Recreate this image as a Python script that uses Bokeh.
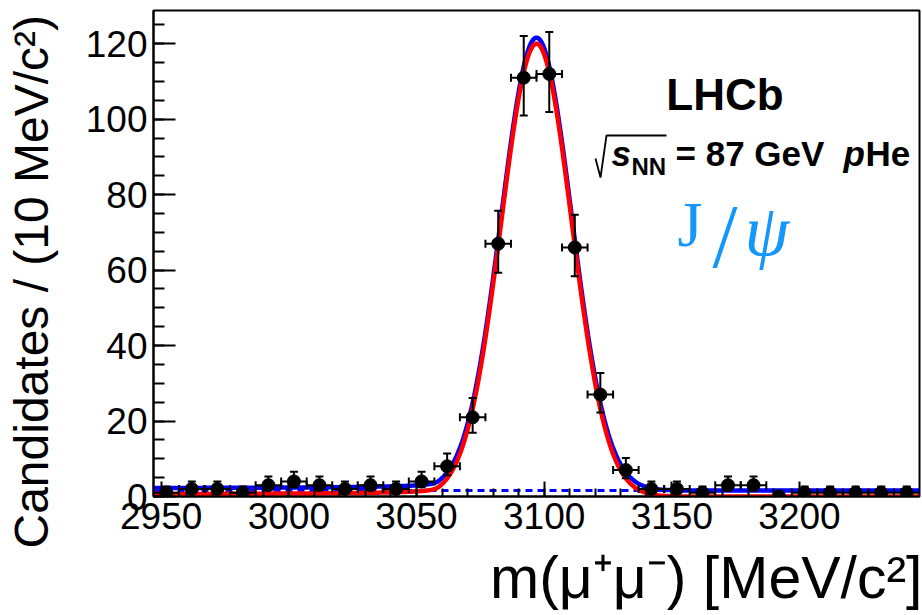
import numpy as np
from bokeh.plotting import figure
from bokeh.models import (Range1d, FixedTicker, Label, Whisker, TeeHead,
                          ColumnDataSource, PolyAnnotation, Title)
from bokeh.embed import file_html
from bokeh.resources import INLINE

# ---------------- data ----------------
bin_centers = [2952, 2962, 2972, 2982, 2992, 3002, 3012, 3022, 3032, 3042,
               3052, 3062, 3072, 3082, 3092, 3102, 3112, 3122, 3132, 3142,
               3152, 3162, 3172, 3182, 3192, 3202, 3212, 3222, 3232, 3242]
counts = [1, 2, 2, 1, 3, 4, 3, 2, 3, 2,
          4, 8, 21, 67, 111, 112, 66, 27, 7, 2,
          2, 1, 3, 3, 0, 1, 1, 1, 1, 1]
bin_half_width = 5.0

x_ticks = [2950, 3000, 3050, 3100, 3150, 3200]
y_ticks = [0, 20, 40, 60, 80, 100, 120]

# fit model parameters
sig_mean = 3097.0
sig_sigma = 13.8
sig_peak = 120.0
cb_alpha = 2.8
cb_n = 0.3
bkg_level = 1.6

X0, X1 = 2947.0, 3247.0
Y0, Y1 = 0.0, 128.8

# ---------------- figure ----------------
W, H = 922, 615
FL, FR, FT, FB = 153, 3, 10, 119
p = figure(width=W, height=H, output_backend="svg", toolbar_location=None,
           x_range=Range1d(X0, X1), y_range=Range1d(Y0, Y1),
           min_border_left=FL, min_border_right=FR, min_border_top=FT,
           min_border_bottom=FB)
p.xgrid.grid_line_color = None
p.ygrid.grid_line_color = None
p.outline_line_color = "black"
p.outline_line_width = 2
p.background_fill_color = "white"
p.border_fill_color = "white"

fw = W - FL - FR
fh = H - FT - FB


def dx(px):
    return X0 + (px - FL) / fw * (X1 - X0)


def dy(py):
    return Y0 + (FT + fh - py) / fh * (Y1 - Y0)


# axes
p.xaxis.ticker = FixedTicker(ticks=x_ticks,
                             minor_ticks=list(range(2950, 3250, 10)))
p.yaxis.ticker = FixedTicker(ticks=y_ticks,
                             minor_ticks=list(range(0, 130, 5)))
# (axis, major tick, minor tick, label standoff, gap before the title)
for ax, mj, mn, so, gap in ((p.xaxis, 15, 8, 6, 7), (p.yaxis, 22, 11, 6, 21)):
    ax.axis_line_width = 2
    ax.axis_line_color = "black"
    ax.major_tick_in = mj
    ax.major_tick_out = 0
    ax.minor_tick_in = mn
    ax.minor_tick_out = 0
    ax.major_tick_line_width = 2
    ax.minor_tick_line_width = 2
    ax.major_tick_line_color = "black"
    ax.minor_tick_line_color = "black"
    ax.major_label_text_font = "Liberation Sans"
    ax.major_label_text_font_size = "37px"
    ax.major_label_text_color = "black"
    ax.major_label_standoff = so
    # blank spacer label: only reserves room between tick labels and title
    ax.axis_label = " "
    ax.axis_label_text_font_size = "1px"
    ax.axis_label_standoff = gap

# axis titles (placed in the side panels)
x_title = "m(μ⁺μ⁻) [MeV/c²]"
y_title = "Candidates / (10 MeV/c²)"
p.add_layout(Title(text=x_title, align="right", text_font="Liberation Sans",
                   text_font_size="59px", text_font_style="normal",
                   text_color="black", standoff=0, offset=-3), "below")
p.add_layout(Title(text=y_title, align="left", text_font="Liberation Sans",
                   text_font_size="48px", text_font_style="normal",
                   text_color="black", standoff=0, offset=-52), "left")

# ---------------- fit curves ----------------
xs = np.linspace(X0, X1, 1501)
t = (xs - sig_mean) / sig_sigma
A = (cb_n / cb_alpha) ** cb_n * np.exp(-cb_alpha ** 2 / 2)
B = cb_n / cb_alpha - cb_alpha
tail = A / np.maximum(B - t, 1e-9) ** cb_n
core = np.exp(-t ** 2 / 2)
signal = sig_peak * np.where(t > -cb_alpha, core, tail)
total = signal + bkg_level
bkg = np.full_like(xs, bkg_level)

p.line(xs, bkg, line_color="blue", line_width=3, line_dash="7 5")
p.line(xs, total, line_color="blue", line_width=4.5)
p.line(xs, signal, line_color="red", line_width=4.5)

# ---------------- data points ----------------
xc = np.array(bin_centers, dtype=float)
nc = np.array(counts, dtype=float)
mask = nc > 0
err_lo = np.sqrt(nc + 0.25) - 0.5
err_hi = np.sqrt(nc + 0.25) + 0.5

src_v = ColumnDataSource(dict(base=xc[mask], lower=(nc - err_lo)[mask],
                              upper=(nc + err_hi)[mask]))
src_h = ColumnDataSource(dict(base=nc[mask], lower=(xc - bin_half_width)[mask],
                              upper=(xc + bin_half_width)[mask]))

p.scatter(xc, nc, size=13, color="black")
for src, dim in ((src_v, "height"), (src_h, "width")):
    wk = Whisker(source=src, base="base", lower="lower", upper="upper",
                 dimension=dim, line_color="black", line_width=2,
                 upper_head=TeeHead(size=8, line_width=2, line_color="black"),
                 lower_head=TeeHead(size=8, line_width=2, line_color="black"),
                 level="annotation")
    p.add_layout(wk)

# ---------------- text inside the frame ----------------
BASE_SHIFT = 0.36  # em; puts the glyph baseline where wanted


def lab(text, px, py, size, font="Liberation Sans", style="normal",
        color="black", align="left"):
    p.add_layout(Label(x=dx(px), y=dy(py - BASE_SHIFT * size), text=text,
                       text_font=font, text_font_size=f"{size}px",
                       text_font_style=style, text_color=color,
                       text_align=align, text_baseline="alphabetic"))


SERIF = "Liberation Serif"
lab("LHCb", 724.5, 110, 44, style="bold", align="center")

# radical sign of sqrt(s_NN)
rx = [595, 600, 606, 666, 606, 600]
ry = [158, 177, 135, 135, 135, 177]
p.add_layout(PolyAnnotation(xs=[dx(v) for v in rx], ys=[dy(v) for v in ry],
                            fill_alpha=0, line_color="black", line_alpha=1,
                            line_width=1.8))
lab("s", 611, 166, 35, style="bold italic")
lab("NN", 631, 175, 24, style="bold")
lab("= 87 GeV", 675, 166, 35, style="bold")
lab("p", 843, 166, 35, style="bold italic")
lab("He", 865, 166, 35, style="bold")

JPSI_COLOR = "#1496fa"
lab("J", 677, 247, 64, font=SERIF, color=JPSI_COLOR)
lab("/", 712, 268, 90, font=SERIF, color=JPSI_COLOR)
lab("ψ", 744, 256, 72, font=SERIF, style="italic", color=JPSI_COLOR)

open("out.html", "w").write(file_html(p, INLINE))
